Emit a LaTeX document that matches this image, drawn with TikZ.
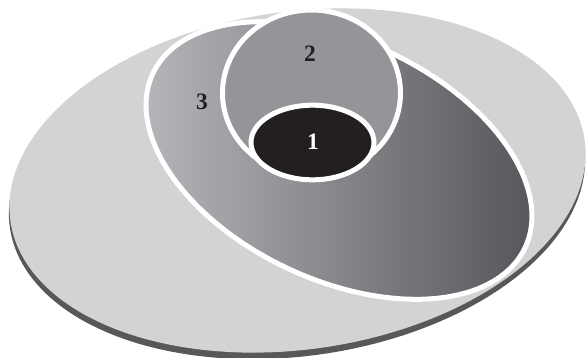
\documentclass[tikz,border=0pt]{standalone}
\usepackage{fontspec}
\setmainfont{Liberation Serif}
\definecolor{facegray}{HTML}{D2D3D5}
\definecolor{shadowgray}{HTML}{58585A}
\definecolor{midgray}{HTML}{939598}
\definecolor{gradlight}{HTML}{B4B5B8}
\definecolor{graddark}{HTML}{56575A}
\definecolor{nearblack}{HTML}{231F20}
\tikzset{
  ringline/.style={draw=white, line width=5pt},
  numlabel/.style={font=\fontsize{23.5}{23.5}\selectfont\bfseries, inner sep=0pt}
}
\begin{document}
\begin{tikzpicture}[x=1pt, y=-1pt]
\useasboundingbox (0,0) rectangle (586,358);
% shadow of the base disc
\fill[shadowgray] plot[variable=\t, domain=0:360, samples=144]
  ({297 + 290*cos(\t)*cos(8) + 169*sin(\t)*sin(8)},
   {187 - 290*cos(\t)*sin(8) + 169*sin(\t)*cos(8)}) -- cycle;
% base disc
\fill[facegray] plot[variable=\t, domain=0:360, samples=144]
  ({297.5 + 290*cos(\t)*cos(8) + 169*sin(\t)*sin(8)},
   {180.5 - 290*cos(\t)*sin(8) + 169*sin(\t)*cos(8)}) -- cycle;
% region 3
\shade[left color=gradlight, right color=graddark] plot[variable=\t, domain=0:360, samples=160]
  ({339 + 205.5*cos(\t)*cos(-25) + 119.5*sin(\t)*sin(-25)},
   {160.5 - 205.5*cos(\t)*sin(-25) + 119.5*sin(\t)*cos(-25)}) -- cycle;
\draw[ringline] plot[variable=\t, domain=0:360, samples=160]
  ({339 + 205.5*cos(\t)*cos(-25) + 119.5*sin(\t)*sin(-25)},
   {160.5 - 205.5*cos(\t)*sin(-25) + 119.5*sin(\t)*cos(-25)}) -- cycle;
% region 2
\draw[ringline, fill=midgray] (311.5,93) ellipse [x radius=89pt, y radius=83pt];
% region 1
\draw[ringline, fill=nearblack] (312.5,142.5) ellipse [x radius=61.5pt, y radius=37.3pt];
% labels
\node[numlabel, text=nearblack] (l3) at (202,102) {3};
\node[numlabel, text=nearblack] (l2) at (310,54) {2};
\node[numlabel, text=white] (l1) at (313,142) {1};
\end{tikzpicture}
\end{document}
